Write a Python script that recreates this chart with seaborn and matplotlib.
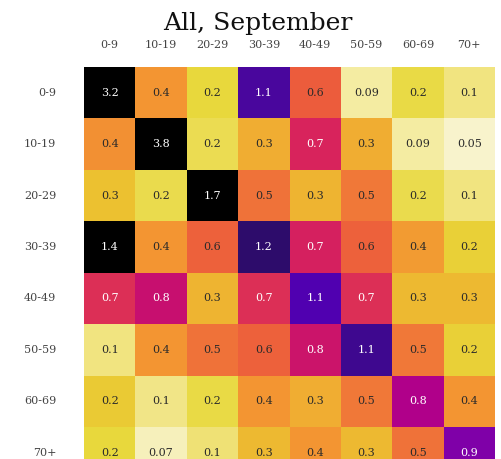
import numpy as np
import pandas as pd
import matplotlib
matplotlib.use("Agg")
import matplotlib.pyplot as plt
import seaborn as sns
from matplotlib.colors import LinearSegmentedColormap

title = "All, September"
age_groups = ["0-9", "10-19", "20-29", "30-39", "40-49", "50-59", "60-69", "70+"]

row_0_9   = [3.20, 0.40, 0.20, 1.10, 0.60, 0.09, 0.19, 0.12]
row_10_19 = [0.42, 3.80, 0.17, 0.32, 0.70, 0.32, 0.09, 0.05]
row_20_29 = [0.26, 0.18, 1.70, 0.52, 0.30, 0.50, 0.18, 0.12]
row_30_39 = [1.40, 0.40, 0.58, 1.22, 0.72, 0.58, 0.38, 0.22]
row_40_49 = [0.68, 0.80, 0.30, 0.68, 1.06, 0.68, 0.28, 0.28]
row_50_59 = [0.12, 0.40, 0.52, 0.58, 0.78, 1.14, 0.50, 0.22]
row_60_69 = [0.24, 0.11, 0.19, 0.40, 0.32, 0.50, 0.84, 0.40]
row_70p   = [0.20, 0.07, 0.13, 0.28, 0.40, 0.28, 0.52, 0.92]

values = np.array([row_0_9, row_10_19, row_20_29, row_30_39,
                   row_40_49, row_50_59, row_60_69, row_70p])
df = pd.DataFrame(values, index=age_groups, columns=age_groups)

def fmt(v):
    return f"{v:.1g}" if v < 0.1 else f"{v:.1f}"
labels = np.vectorize(fmt)(values)

vmax = 1.4
anchors = [
    (0.00, "#fdfbe8"), (0.05, "#f8f3cc"), (0.09, "#f4eca0"), (0.12, "#f0e27a"),
    (0.20, "#e8d83a"), (0.26, "#ecc030"), (0.32, "#f0ac32"), (0.40, "#f39532"),
    (0.50, "#f07838"), (0.60, "#ec5c3c"), (0.70, "#d8245c"), (0.80, "#c8106e"),
    (0.84, "#b0008a"), (0.92, "#8000a8"), (1.06, "#5000b0"), (1.10, "#4a069e"),
    (1.14, "#3e0890"), (1.22, "#2e0c6e"), (1.40, "#000000"),
]
cmap = LinearSegmentedColormap.from_list("custom", [(p / vmax, c) for p, c in anchors])

sns.set_theme(style="white")
plt.rcParams["font.family"] = ["DejaVu Serif"]

W, H = 501, 459
fig = plt.figure(figsize=(W / 100, H / 100), dpi=100)
left, top, aw, ah = 84, 67, 411, 411.5
ax = fig.add_axes([left / W, (H - top - ah) / H, aw / W, ah / H])

sns.heatmap(df, ax=ax, cmap=cmap, vmin=0, vmax=vmax, cbar=False,
            annot=labels, fmt="", annot_kws={"fontsize": 8},
            linewidths=0, square=False)

# white text on dark cells, dark text elsewhere
flat = values.flatten()
for txt, v in zip(ax.texts, flat):
    txt.set_color("white" if v >= 0.65 else "#2a2a2a")

ax.xaxis.tick_top()
ax.tick_params(axis="both", length=0, labelsize=8, colors="#444444")
ax.tick_params(axis="x", pad=12)
ax.tick_params(axis="y", pad=20)
plt.setp(ax.get_yticklabels(), rotation=0)
plt.setp(ax.get_xticklabels(), rotation=0)
ax.set_xlabel("")
ax.set_ylabel("")

fig.text(258 / W, 1 - 30 / H, title, ha="center", va="baseline",
         fontsize=18, color="#111111")

fig.savefig("out.png", dpi=100)
